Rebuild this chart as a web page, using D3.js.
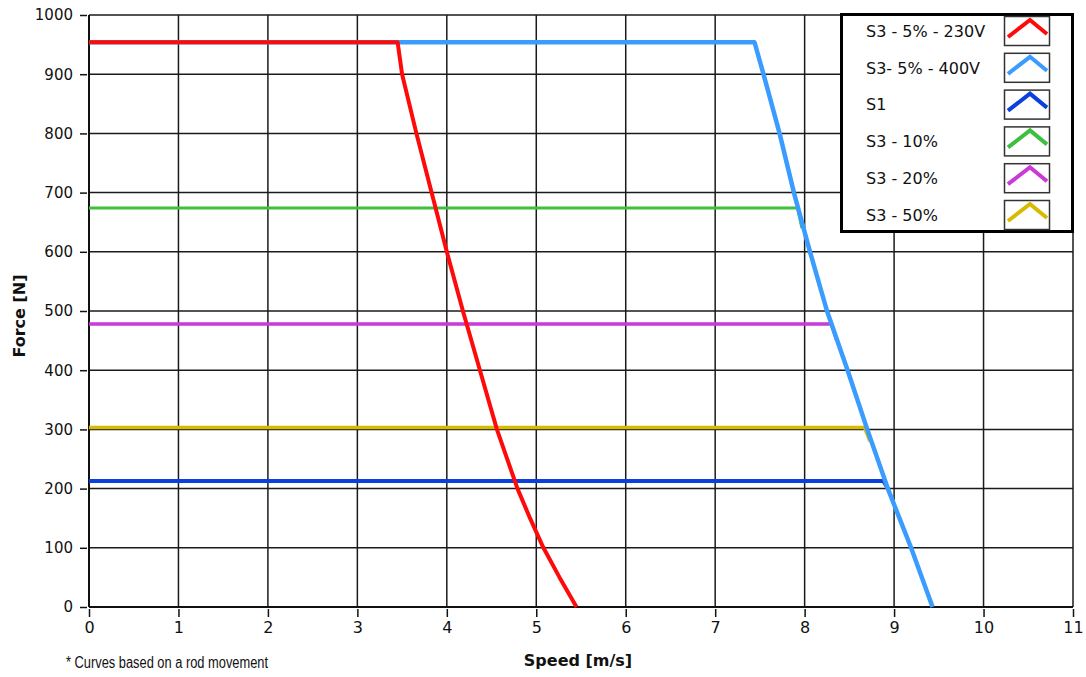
<!DOCTYPE html>
<html>
<head>
<meta charset="utf-8">
<script src="https://cdn.jsdelivr.net/npm/d3@7"></script>
<style>
  html, body { margin: 0; padding: 0; background: #fff; }
  svg { display: block; }
</style>
</head>
<body>
<svg id="chart" width="1086" height="677"></svg>
<script>
// Force vs. speed characteristic curves per duty cycle
const seriesNames = ["S1", "S3 - 10%", "S3 - 20%", "S3 - 50%", "S3- 5% - 400V", "S3 - 5% - 230V"];
const seriesColors = ["#0a3fe0", "#3fbf3f", "#c93ad6", "#d8bb00", "#3a9cff", "#ff0a0a"];
const seriesWidths = [4, 3, 3.5, 3.5, 4.5, 4];

// [speed m/s, force N]
const s1 = [[0, 213], [8.88, 213], [8.93, 200]];
const s3_10 = [[0, 674], [7.92, 674], [7.97, 640]];
const s3_20 = [[0, 478], [8.30, 478], [8.36, 450]];
const s3_50 = [[0, 303], [8.67, 303], [8.73, 280]];
const s3_5_400 = [[0, 954], [7.44, 954], [7.54, 900], [7.72, 800], [7.88, 700], [8.06, 600],
                  [8.25, 500], [8.48, 400], [8.70, 300], [8.93, 200], [9.19, 100], [9.43, 0]];
const s3_5_230 = [[0, 954], [3.45, 954], [3.50, 900], [3.66, 800], [3.83, 700], [4.00, 600],
                  [4.18, 500], [4.37, 400], [4.56, 300], [4.79, 200], [4.93, 150], [5.08, 100],
                  [5.26, 50], [5.45, 0]];
const seriesData = [s1, s3_10, s3_20, s3_50, s3_5_400, s3_5_230];

// legend order top to bottom
const legendOrder = ["S3 - 5% - 230V", "S3- 5% - 400V", "S1", "S3 - 10%", "S3 - 20%", "S3 - 50%"];

const xTicks = d3.range(0, 12, 1);
const yTicks = d3.range(0, 1001, 100);

const svg = d3.select("#chart");
const x = d3.scaleLinear().domain([0, 11]).range([89, 1073]);
const y = d3.scaleLinear().domain([0, 1000]).range([607, 15]);

const font = "'DejaVu Sans', Verdana, sans-serif";
const ink = "#111";

// grid
const grid = svg.append("g").attr("stroke", "#1a1a1a").attr("stroke-width", 1.5);
grid.selectAll("line.v").data(xTicks).join("line")
  .attr("x1", d => x(d)).attr("x2", d => x(d))
  .attr("y1", y(1000)).attr("y2", y(0));
grid.selectAll("line.h").data(yTicks).join("line")
  .attr("x1", x(0)).attr("x2", x(11))
  .attr("y1", d => y(d)).attr("y2", d => y(d));

// axes
const yAxis = d3.axisLeft(y).tickValues(yTicks).tickSize(7).tickPadding(7).tickFormat(d3.format("d"));
const gy = svg.append("g").attr("transform", `translate(${x(0) - 2},0)`).call(yAxis);
gy.select(".domain").remove();
gy.selectAll(".tick line").attr("stroke", ink).attr("stroke-width", 1.5);
gy.selectAll(".tick text").attr("font-family", font).attr("font-size", 15).attr("fill", ink);

const xAxis = d3.axisBottom(x).tickValues(xTicks).tickSize(8).tickPadding(5).tickFormat(d3.format("d"));
const gx = svg.append("g").attr("transform", `translate(0,${y(0) + 2})`).call(xAxis);
gx.select(".domain").remove();
gx.selectAll(".tick line").attr("stroke", ink).attr("stroke-width", 1.5);
gx.selectAll(".tick text").attr("font-family", font).attr("font-size", 16).attr("fill", ink);

// axis lines
svg.append("line").attr("x1", x(0)).attr("x2", x(0)).attr("y1", y(1000)).attr("y2", y(0))
  .attr("stroke", ink).attr("stroke-width", 2);
svg.append("line").attr("x1", x(0)).attr("x2", x(11)).attr("y1", y(0)).attr("y2", y(0))
  .attr("stroke", ink).attr("stroke-width", 2);

// curves
const line = d3.line().x(d => x(d[0])).y(d => y(d[1]));
svg.append("g").selectAll("path").data(seriesData).join("path")
  .attr("d", line)
  .attr("fill", "none")
  .attr("stroke", (d, i) => seriesColors[i])
  .attr("stroke-width", (d, i) => seriesWidths[i])
  .attr("stroke-linejoin", "round");

// axis titles
svg.append("text").attr("x", 578).attr("y", 666).attr("text-anchor", "middle")
  .attr("font-family", font).attr("font-weight", "bold").attr("font-size", 16).attr("fill", ink)
  .text("Speed [m/s]");
svg.append("text").attr("transform", "translate(25,316) rotate(-90)").attr("text-anchor", "middle")
  .attr("font-family", font).attr("font-weight", "bold").attr("font-size", 16).attr("fill", ink)
  .text("Force [N]");

// footnote
svg.append("text").attr("x", 66).attr("y", 668)
  .attr("font-family", "'Liberation Sans Narrow', 'Liberation Sans', Arial, sans-serif")
  .attr("font-size", 16).attr("fill", ink)
  .attr("textLength", 202).attr("lengthAdjust", "spacingAndGlyphs")
  .text("* Curves based on a rod movement");

// legend
const legend = svg.append("g");
legend.append("rect").attr("x", 841.5).attr("y", 14.5).attr("width", 231).attr("height", 217)
  .attr("fill", "#fff").attr("stroke", "#000").attr("stroke-width", 3);
const rowY = d3.scalePoint().domain(legendOrder).range([31, 215]);
const rows = legend.selectAll("g.row").data(legendOrder).join("g")
  .attr("transform", d => `translate(0,${rowY(d)})`);
rows.append("text").attr("x", 866).attr("y", 0).attr("dy", "0.36em")
  .attr("font-family", font).attr("font-size", 16).attr("fill", ink)
  .text(d => d);
rows.append("rect").attr("x", 1004.5).attr("y", -14.5).attr("width", 45).attr("height", 29)
  .attr("fill", "#fff").attr("stroke", "#333").attr("stroke-width", 1.5);
rows.append("path")
  .attr("d", "M1008,6 L1030,-11 L1047,3")
  .attr("fill", "none")
  .attr("stroke", d => seriesColors[seriesNames.indexOf(d)])
  .attr("stroke-width", 4).attr("stroke-linejoin", "miter");
</script>
</body>
</html>
